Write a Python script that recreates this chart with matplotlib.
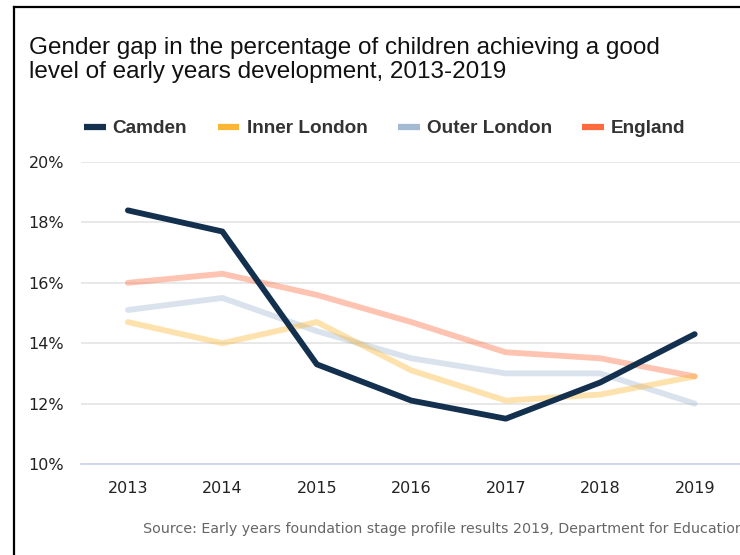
#!/usr/bin/env python3

import matplotlib.pyplot as plt
from matplotlib.lines import Line2D

YEARS = ["2013", "2014", "2015", "2016", "2017", "2018", "2019"]

CAMDEN       = [18.4, 17.7, 13.3, 12.1, 11.5, 12.7, 14.3]
INNER_LONDON = [14.7, 14.0, 14.7, 13.1, 12.1, 12.3, 12.9]
OUTER_LONDON = [15.1, 15.5, 14.4, 13.5, 13.0, 13.0, 12.0]
ENGLAND      = [16.0, 16.3, 15.6, 14.7, 13.7, 13.5, 12.9]

SERIES = [
    ("Camden", CAMDEN, "#13304f", 1.0, 4),
    ("Inner London", INNER_LONDON, "#fbb733", 0.4, 3),
    ("Outer London", OUTER_LONDON, "#a3bad2", 0.4, 3),
    ("England", ENGLAND, "#fd6a3e", 0.4, 3),
]

TITLE = ("Gender gap in the percentage of children achieving a good\n"
         "level of early years development, 2013-2019")
SOURCE = "Source: Early years foundation stage profile results 2019, Department for Education"


def main():
    fig = plt.figure(figsize=(7.4, 5.55), dpi=100)
    ax = fig.add_axes([0.109, 0.164, 0.90, 0.544])

    x = list(range(len(YEARS)))
    ## faded lines first, Camden on top
    for name, values, color, alpha, z in SERIES[::-1]:
        ax.plot(x, values, color=color, alpha=alpha, linewidth=4.2,
                solid_capstyle='round', solid_joinstyle='round', zorder=z)

    ax.set_xlim(-0.5, 6.55)
    ax.set_ylim(10, 20)
    ax.set_yticks([10, 12, 14, 16, 18, 20])
    ax.set_yticklabels([f"{v}%" for v in [10, 12, 14, 16, 18, 20]])
    ax.set_xticks(x)
    ax.set_xticklabels(YEARS)
    ax.tick_params(axis='both', length=0, labelsize=11.5, colors='#222222')
    ax.tick_params(axis='y', pad=12)
    ax.tick_params(axis='x', pad=12)
    ax.grid(axis='y', color='#e6e6e6', linewidth=1.3)
    ax.set_axisbelow(True)
    for side in ('top', 'right', 'left'):
        ax.spines[side].set_visible(False)
    ax.spines['bottom'].set_color('#ccd6eb')
    ax.spines['bottom'].set_linewidth(1.3)

    ## legend
    handles = [Line2D([], [], color=c, linewidth=4.5, solid_capstyle='butt')
               for _, _, c, _, _ in SERIES]
    labels = [s[0] for s in SERIES]
    leg = fig.legend(handles, labels, loc='center left', bbox_to_anchor=(0.090, 0.768),
                     ncol=4, frameon=False, handlelength=1.15, handletextpad=0.37,
                     columnspacing=1.6,
                     prop={'family': 'Liberation Sans', 'weight': 'bold', 'size': 13.7})
    for t in leg.get_texts():
        t.set_color('#333333')

    fig.text(0.039, 0.934, TITLE, ha='left', va='top', fontsize=17.5,
             family='Liberation Sans', color='#111111', linespacing=1.15)
    fig.text(0.193, 0.046, SOURCE, ha='left', va='center', fontsize=10.3,
             color='#666666')

    ## frame lines on left and top
    fig.add_artist(Line2D([0.019, 0.019], [0, 0.987], color='black', linewidth=1.6))
    fig.add_artist(Line2D([0.019, 1.0], [0.987, 0.987], color='black', linewidth=1.6))

    fig.savefig("out.png", dpi=100)


main()
